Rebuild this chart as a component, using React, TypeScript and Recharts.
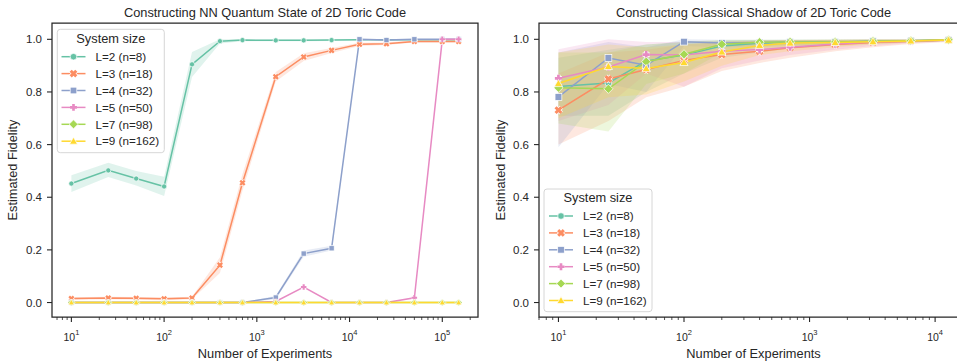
import React from 'react'
import { ComposedChart, Line, Area, XAxis, YAxis, ReferenceArea } from 'recharts'

// Two seaborn-style panels: NN fidelity vs. shots (left), classical shadow (right).
// Bands are the 95% intervals seaborn draws under each line.

const LABELS = ['L=2 (n=8)', 'L=3 (n=18)', 'L=4 (n=32)', 'L=5 (n=50)', 'L=7 (n=98)', 'L=9 (n=162)']
const COLORS = ['#66c2a5', '#fc8d62', '#8da0cb', '#e78ac3', '#a6d854', '#ffd92f']
const SHAPES = ['circle', 'x', 'square', 'plus', 'diamond', 'triangle']

const NN_X = [10, 25, 50, 100, 200, 400, 700, 1600, 3200, 6400, 12800, 25000, 50000, 100000, 150000]
const CS_X = [10, 25, 50, 100, 200, 400, 700, 1600, 3200, 6400, 12800]

const NN_L2 = [0.452, 0.502, 0.471, 0.441, 0.905, 0.993, 0.997, 0.996, 0.996, 0.997, 0.998, 0.998, 0.998, 0.998, 0.998]
const NN_L3 = [0.015, 0.017, 0.016, 0.014, 0.017, 0.142, 0.455, 0.858, 0.933, 0.958, 0.981, 0.983, 0.992, 0.992, 0.992]
const NN_L4 = [0, 0, 0, 0, 0, 0, 0, 0.019, 0.186, 0.206, 1.0, 0.997, 1.0, 1.0, 1.0]
const NN_L5 = [0, 0, 0, 0, 0, 0, 0, 0.004, 0.059, 0, 0, 0, 0.018, 1.0, 1.0]
const NN_L7 = [0, 0, 0, 0, 0, 0, 0, 0, 0, 0, 0, 0, 0, 0, 0]
const NN_L9 = [0, 0, 0, 0, 0, 0, 0, 0, 0, 0, 0, 0, 0, 0, 0]

const NN_L2_LO = [0.42, 0.477, 0.445, 0.405, 0.857, 0.984, 0.993, 0.993, 0.993, 0.994, 0.996, 0.996, 0.996, 0.996, 0.996]
const NN_L2_HI = [0.484, 0.531, 0.5, 0.478, 0.952, 1.0, 1.0, 0.999, 0.999, 0.999, 1.0, 1.0, 1.0, 1.0, 1.0]
const NN_L3_LO = [0.01, 0.012, 0.011, 0.009, 0.012, 0.112, 0.425, 0.84, 0.918, 0.948, 0.975, 0.978, 0.988, 0.988, 0.988]
const NN_L3_HI = [0.02, 0.022, 0.021, 0.019, 0.022, 0.172, 0.488, 0.876, 0.947, 0.967, 0.987, 0.988, 0.996, 0.996, 0.996]
const NN_L4_LO = [0, 0, 0, 0, 0, 0, 0, 0.012, 0.174, 0.198, 0.999, 0.994, 0.999, 0.999, 0.999]
const NN_L4_HI = [0, 0, 0, 0, 0, 0, 0, 0.026, 0.198, 0.216, 1.0, 1.0, 1.0, 1.0, 1.0]

const CS_L2 = [0.821, 0.834, 0.918, 0.94, 0.975, 0.985, 0.99, 0.99, 0.992, 0.994, 0.997]
const CS_L3 = [0.731, 0.849, 0.885, 0.92, 0.942, 0.955, 0.968, 0.98, 0.988, 0.993, 0.997]
const CS_L4 = [0.781, 0.929, 0.902, 0.991, 0.986, 0.988, 0.99, 0.99, 0.993, 0.995, 0.997]
const CS_L5 = [0.852, 0.895, 0.942, 0.94, 0.955, 0.961, 0.97, 0.982, 0.99, 0.993, 0.997]
const CS_L7 = [0.816, 0.812, 0.915, 0.943, 0.981, 0.989, 0.99, 0.99, 0.993, 0.995, 0.998]
const CS_L9 = [0.832, 0.897, 0.889, 0.912, 0.952, 0.977, 0.986, 0.988, 0.991, 0.994, 0.997]

const CS_L2_LO = [0.71, 0.71, 0.8, 0.87, 0.93, 0.95, 0.965, 0.975, 0.982, 0.988, 0.993]
const CS_L2_HI = [0.93, 0.96, 0.98, 0.99, 0.995, 0.997, 0.998, 0.998, 0.999, 0.999, 1.0]
const CS_L3_LO = [0.6, 0.69, 0.78, 0.82, 0.88, 0.91, 0.93, 0.955, 0.97, 0.982, 0.99]
const CS_L3_HI = [0.87, 0.95, 0.96, 0.98, 0.99, 0.993, 0.995, 0.997, 0.998, 0.999, 1.0]
const CS_L4_LO = [0.59, 0.83, 0.8, 0.975, 0.97, 0.975, 0.98, 0.982, 0.986, 0.99, 0.994]
const CS_L4_HI = [0.95, 0.99, 0.97, 1.0, 0.998, 0.998, 0.998, 0.998, 0.999, 0.999, 1.0]
const CS_L5_LO = [0.69, 0.75, 0.87, 0.82, 0.89, 0.92, 0.94, 0.96, 0.975, 0.985, 0.992]
const CS_L5_HI = [0.962, 1.0, 0.99, 0.99, 0.995, 0.995, 0.997, 0.998, 0.999, 0.999, 1.0]
const CS_L7_LO = [0.68, 0.65, 0.83, 0.87, 0.95, 0.97, 0.975, 0.98, 0.985, 0.99, 0.995]
const CS_L7_HI = [0.95, 0.95, 0.98, 0.99, 0.998, 0.998, 0.998, 0.999, 0.999, 0.999, 1.0]
const CS_L9_LO = [0.7, 0.78, 0.79, 0.84, 0.9, 0.94, 0.955, 0.97, 0.98, 0.988, 0.993]
const CS_L9_HI = [0.95, 0.98, 0.97, 0.98, 0.99, 0.995, 0.997, 0.998, 0.999, 0.999, 1.0]

const NN_MAJOR = [10, 100, 1000, 10000, 100000]
const CS_MAJOR = [10, 100, 1000, 10000]
const Y_TICKS = [0, 0.2, 0.4, 0.6, 0.8, 1.0]

const NN_DOMAIN: [number, number] = [6.18, 242700]
const CS_DOMAIN: [number, number] = [7.0, 18280]
const Y_MIN = -0.055
const Y_MAX = 1.062

const INK = '#262626'
const FONT = '"Liberation Sans", Arial, sans-serif'

const NN_MEAN = [NN_L2, NN_L3, NN_L4, NN_L5, NN_L7, NN_L9]
const NN_BANDS: [number, number[], number[]][] = [[0, NN_L2_LO, NN_L2_HI], [1, NN_L3_LO, NN_L3_HI], [2, NN_L4_LO, NN_L4_HI]]
const CS_MEAN = [CS_L2, CS_L3, CS_L4, CS_L5, CS_L7, CS_L9]
const CS_BANDS: [number, number[], number[]][] = [
  [0, CS_L2_LO, CS_L2_HI], [1, CS_L3_LO, CS_L3_HI], [2, CS_L4_LO, CS_L4_HI],
  [3, CS_L5_LO, CS_L5_HI], [4, CS_L7_LO, CS_L7_HI], [5, CS_L9_LO, CS_L9_HI],
]

function buildRows(xs: number[], means: number[][], bands: [number, number[], number[]][]) {
  return xs.map((x, i) => {
    const r: Record<string, unknown> = { x }
    means.forEach((s, k) => { r[`m${k}`] = s[i] })
    bands.forEach(([k, lo, hi]) => { r[`b${k}`] = [lo[i], hi[i]] })
    return r
  })
}

// major decades plus the 2..9 minors that fall inside the domain
function logTicks(major: number[], domain: [number, number]) {
  const out: number[] = []
  for (let d = -1; d <= major.length + 1; d++) {
    for (let m = 1; m <= 9; m++) {
      const v = m * Math.pow(10, d)
      if (v >= domain[0] && v <= domain[1]) out.push(v)
    }
  }
  return out
}

const nnRows = buildRows(NN_X, NN_MEAN, NN_BANDS)
const csRows = buildRows(CS_X, CS_MEAN, CS_BANDS)

function Marker({ shape, cx, cy, s, color }: { shape: string; cx: number; cy: number; s: number; color: string }) {
  const edge = { stroke: '#fff', strokeWidth: 0.7 }
  switch (shape) {
    case 'circle':
      return <circle cx={cx} cy={cy} r={s} fill={color} {...edge} />
    case 'square':
      return <rect x={cx - s} y={cy - s} width={2 * s} height={2 * s} fill={color} {...edge} />
    case 'diamond': {
      const d = s * 1.35
      return <polygon points={`${cx},${cy - d} ${cx + d},${cy} ${cx},${cy + d} ${cx - d},${cy}`} fill={color} {...edge} />
    }
    case 'triangle': {
      const d = s * 1.2
      return <polygon points={`${cx},${cy - d} ${cx + d},${cy + d * 0.75} ${cx - d},${cy + d * 0.75}`} fill={color} {...edge} />
    }
    case 'x': {
      const d = s * 0.85
      const path = `M${cx - d},${cy - d}L${cx + d},${cy + d}M${cx - d},${cy + d}L${cx + d},${cy - d}`
      return (
        <g>
          <path d={path} stroke="#fff" strokeWidth={s * 0.9 + 1.4} />
          <path d={path} stroke={color} strokeWidth={s * 0.9} />
        </g>
      )
    }
    default: {
      const d = s * 1.05
      const path = `M${cx - d},${cy}L${cx + d},${cy}M${cx},${cy - d}L${cx},${cy + d}`
      return (
        <g>
          <path d={path} stroke="#fff" strokeWidth={s * 0.8 + 1.4} />
          <path d={path} stroke={color} strokeWidth={s * 0.8} />
        </g>
      )
    }
  }
}

const LogTick = (props: any) => {
  const { x, y, payload } = props
  const e = Math.log10(payload.value)
  const major = Math.abs(e - Math.round(e)) < 1e-6
  return (
    <g>
      <line x1={x} x2={x} y1={y} y2={y + (major ? 5 : 3)} stroke={INK} strokeWidth={major ? 1.1 : 0.8} />
      {major && (
        <text x={x} y={y + 23.5} textAnchor="middle" fontSize={10.5} fontFamily={FONT} fill={INK}>
          10<tspan dy={-6} fontSize={7.5}>{Math.round(e)}</tspan>
        </text>
      )}
    </g>
  )
}

function Panel({ rows, bandKeys, domain, major, width, yw, s, right }: {
  rows: Record<string, unknown>[]
  bandKeys: number[]
  domain: [number, number]
  major: number[]
  width: number
  yw: number
  s: number
  right: number
}) {
  return (
    <ComposedChart width={width} height={364} data={rows} margin={{ top: 23, right, bottom: 17, left: 0 }}>
      <XAxis dataKey="x" type="number" scale="log" domain={domain} allowDataOverflow ticks={logTicks(major, domain)}
        interval={0} tick={<LogTick />} tickLine={false} axisLine={false} tickSize={0} tickMargin={0} height={30} />
      <YAxis type="number" domain={[Y_MIN, Y_MAX]} allowDataOverflow ticks={Y_TICKS} interval={0}
        tickFormatter={(v: number) => v.toFixed(1)} width={yw} tickSize={5} tickMargin={5} axisLine={false}
        tickLine={{ stroke: INK, strokeWidth: 1.1 }} tick={{ fill: INK, fontSize: 11.5, fontFamily: FONT }} />
      {bandKeys.map((k) => (
        <Area key={`b${k}`} dataKey={`b${k}`} type="linear" stroke="none" fill={COLORS[k]} fillOpacity={0.2}
          dot={false} activeDot={false} isAnimationActive={false} />
      ))}
      {LABELS.map((_, k) => (
        <Line key={`m${k}`} dataKey={`m${k}`} type="linear" stroke={COLORS[k]} strokeWidth={1.5}
          dot={(p: any) => <Marker key={`d${k}-${p.index}`} shape={SHAPES[k]} cx={p.cx} cy={p.cy} s={s} color={COLORS[k]} />}
          activeDot={false} isAnimationActive={false} />
      ))}
      <ReferenceArea x1={domain[0]} x2={domain[1]} y1={Y_MIN} y2={Y_MAX} fill="none" stroke={INK} strokeWidth={1.25}
        ifOverflow="visible" />
    </ComposedChart>
  )
}

function LegendBox({ x, y, w, h, rowY, lineX }: { x: number; y: number; w: number; h: number; rowY: number; lineX: number }) {
  return (
    <g>
      <rect x={x} y={y} width={w} height={h} rx={3} fill="#fff" fillOpacity={0.8} stroke="#cccccc" strokeWidth={0.8} />
      <text x={x + w / 2} y={y + 13.3} textAnchor="middle" fontSize={12.8} fontFamily={FONT} fill={INK}>System size</text>
      {LABELS.map((lab, k) => {
        const cy = rowY + k * 16.9
        return (
          <g key={lab}>
            <line x1={lineX} x2={lineX + 24} y1={cy} y2={cy} stroke={COLORS[k]} strokeWidth={1.5} />
            <Marker shape={SHAPES[k]} cx={lineX + 12} cy={cy} s={3.3} color={COLORS[k]} />
            <text x={lineX + 34} y={cy + 4.2} fontSize={11.7} fontFamily={FONT} fill={INK}>{lab}</text>
          </g>
        )
      })}
    </g>
  )
}

export default function App() {
  const txt = { fontSize: 12.8, fontFamily: FONT, fill: INK }
  return (
    <div style={{ position: 'absolute', left: 0, top: 0, width: 957, height: 364, overflow: 'hidden', background: '#fff' }}>
      <div style={{ position: 'absolute', left: 0, top: 0 }}>
        <Panel rows={nnRows} bandKeys={NN_BANDS.map((b) => b[0])} domain={NN_DOMAIN} major={NN_MAJOR}
          width={480} yw={52} s={2.6} right={2} />
      </div>
      <div style={{ position: 'absolute', left: 480, top: 0 }}>
        <Panel rows={csRows} bandKeys={CS_BANDS.map((b) => b[0])} domain={CS_DOMAIN} major={CS_MAJOR}
          width={490} yw={59} s={3.4} right={2} />
      </div>
      <svg width={957} height={364} style={{ position: 'absolute', left: 0, top: 0, pointerEvents: 'none' }}>
        <text x={265} y={17.3} textAnchor="middle" {...txt}>Constructing NN Quantum State of 2D Toric Code</text>
        <text x={753.5} y={17.3} textAnchor="middle" {...txt}>Constructing Classical Shadow of 2D Toric Code</text>
        <text x={265} y={358} textAnchor="middle" {...txt}>Number of Experiments</text>
        <text x={753.5} y={358} textAnchor="middle" {...txt}>Number of Experiments</text>
        <text transform="translate(17,170) rotate(-90)" textAnchor="middle" {...txt}>Estimated Fidelity</text>
        <text transform="translate(505,170) rotate(-90)" textAnchor="middle" {...txt}>Estimated Fidelity</text>
        <LegendBox x={57.3} y={29.3} w={107} h={123.4} rowY={56.7} lineX={61.5} />
        <LegendBox x={544} y={189} w={108} h={122.7} rowY={216} lineX={549} />
      </svg>
    </div>
  )
}
